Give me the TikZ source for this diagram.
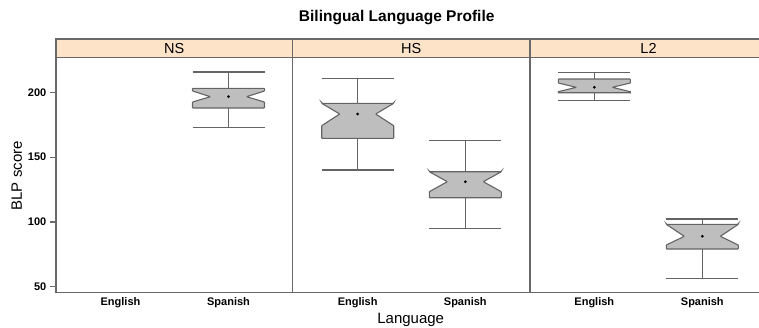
\documentclass[tikz,border=0pt]{standalone}
\usepackage{fontspec}
\setmainfont{Liberation Sans}
\definecolor{stripc}{RGB}{253,228,200}
\definecolor{boxfill}{RGB}{190,190,190}
\definecolor{lnc}{RGB}{100,100,100}
\definecolor{framec}{RGB}{105,105,105}
\tikzset{
  whisk/.style={draw=lnc, line width=1.1pt},
  boxst/.style={draw=lnc, fill=boxfill, line width=1.1pt, rounded corners=0.6pt},
  framest/.style={draw=framec, line width=1.2pt},
  stripst/.style={fill=stripc, draw=framec, line width=1.2pt},
  ticklab/.style={font=\bfseries\fontsize{11}{13}\selectfont, inner sep=0pt},
  striplab/.style={font=\fontsize{14.5}{16}\selectfont, inner sep=0pt},
  axlab/.style={font=\fontsize{15}{17}\selectfont, inner sep=0pt},
  titlest/.style={font=\bfseries\fontsize{15.5}{17}\selectfont, inner sep=0pt},
}
\newcommand\notchbox[8]{%
  \draw[whisk] ({#1-36},#2) -- ({#1+36},#2) ({#1},#2) -- ({#1},#4);
  \draw[whisk] ({#1-36},#3) -- ({#1+36},#3) ({#1},#3) -- ({#1},#5);
  \draw[boxst] ({#1-36},#4) -- ({#1+36},#4) -- ({#1+36},#7) -- ({#1+18},#6) -- ({#1+36},#8) -- ({#1+36},#5) -- ({#1-36},#5) -- ({#1-36},#8) -- ({#1-18},#6) -- ({#1-36},#7) -- cycle;
  \fill ({#1},#6) circle (1.5pt);
}
\begin{document}
\begin{tikzpicture}[x=1pt, y=-1pt]
\useasboundingbox (0,0) rectangle (759,327);
\clip (0,0) rectangle (759,327);
% strips
\draw[stripst] (56,39) rectangle (292.7,57.5);
\draw[stripst] (292.7,39) rectangle (530,57.5);
\draw[stripst] (530,39) rectangle (770,57.5);
% panel frame
\draw[framest] (56,57.5) -- (56,292.5) -- (770,292.5);
\draw[framest] (292.7,57.5) -- (292.7,292.5);
\draw[framest] (530,57.5) -- (530,292.5);
% y ticks
\foreach \v/\yy in {200/92.3,150/157.1,100/221.9,50/286.7}{
  \draw[framest] (50,\yy) -- (56,\yy);
}
\node[ticklab, anchor=east] (t200) at (46.5,92.3) {200};
\node[ticklab, anchor=east] (t150) at (46.5,157.1) {150};
\node[ticklab, anchor=east] (t100) at (46.5,221.9) {100};
\node[ticklab, anchor=east] (t50) at (46.5,286.7) {50};
% boxes
\notchbox{228.5}{72}{127.3}{88.3}{108}{96.7}{91}{102}
\notchbox{357.7}{78.3}{170}{103.3}{138.3}{114}{103.3}{125.7}
\notchbox{465.3}{140.7}{228.3}{171.7}{197.7}{181.7}{171.7}{191.7}
\notchbox{594.3}{72.3}{100.5}{79}{92.7}{87.3}{83}{91.7}
\notchbox{702.3}{219}{278.3}{224.3}{249}{236.3}{224.3}{245}
% labels
\node[titlest] (title) at (396.7,17.5) {Bilingual Language Profile};
\node[striplab] (ns) at (174.3,48.5) {NS};
\node[striplab] (hs) at (411.3,48.5) {HS};
\node[striplab] (l2) at (648.5,48.5) {L2};
\node[ticklab] (e1) at (120.5,302.5) {English};
\node[ticklab] (s1) at (228.5,302.5) {Spanish};
\node[ticklab] (e2) at (357.7,302.5) {English};
\node[ticklab] (s2) at (465.3,302.5) {Spanish};
\node[ticklab] (e3) at (594.3,302.5) {English};
\node[ticklab] (s3) at (702.3,302.5) {Spanish};
\node[axlab] (xl) at (410.7,319.5) {Language};
\node[axlab, rotate=90] (yl) at (16.7,175.8) {BLP score};
\end{tikzpicture}
\end{document}
